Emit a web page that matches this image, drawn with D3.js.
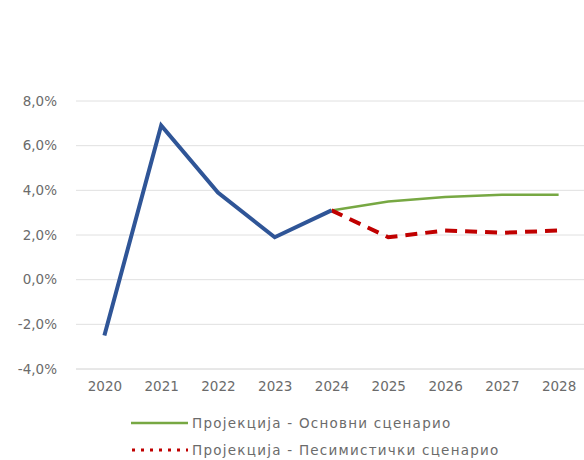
<!DOCTYPE html>
<html>
<head>
<meta charset="utf-8">
<script src="https://cdn.jsdelivr.net/npm/d3@7"></script>
<style>
  html, body { margin: 0; padding: 0; background: #fff; }
  svg text { font-family: "DejaVu Sans", "Liberation Sans", sans-serif; fill: #6b6b6b; }
</style>
</head>
<body>
<svg id="chart" width="584" height="460"></svg>
<script>
// Years on the x axis
const years = ["2020", "2021", "2022", "2023", "2024", "2025", "2026", "2027", "2028"];
// Realized growth (%), 2020–2024
const actual = [-2.5, 6.9, 3.9, 1.9, 3.1];
// Baseline projection (%), 2024–2028
const baseline = [3.1, 3.5, 3.7, 3.8, 3.8];
// Pessimistic projection (%), 2024–2028
const pessimistic = [3.1, 1.9, 2.2, 2.1, 2.2];
// Y axis ticks (%)
const yTicks = [-4, -2, 0, 2, 4, 6, 8];
// Legend labels
const legendLabels = ["Пројекција - Основни сценарио", "Пројекција - Песимистички сценарио"];

(function draw() {
  const svg = d3.select("#chart");
  const plotLeft = 76, plotRight = 587, plotTop = 101, plotBottom = 369;
  const fontSize = 13.5;

  const x = d3.scalePoint().domain(years).range([plotLeft, plotRight]).padding(0.5);
  const y = d3.scaleLinear().domain([-4, 8]).range([plotBottom, plotTop]);

  // Comma decimal separator, plain hyphen for negatives
  const fmt = v => (v < 0 ? "-" : "") + Math.abs(v).toFixed(1).replace(".", ",") + "%";

  // Horizontal gridlines
  svg.append("g")
    .selectAll("line")
    .data(yTicks)
    .join("line")
    .attr("x1", plotLeft).attr("x2", plotRight)
    .attr("y1", d => y(d)).attr("y2", d => y(d))
    .attr("stroke", d => d === -4 ? "#d0d0d0" : "#e0e0e0")
    .attr("stroke-width", 1);

  // Y axis labels
  const yAxis = d3.axisLeft(y).tickValues(yTicks).tickFormat(fmt).tickSize(0).tickPadding(0);
  const gy = svg.append("g").attr("transform", `translate(${plotLeft - 19},0)`).call(yAxis);
  gy.select(".domain").remove();
  gy.selectAll("text").attr("font-size", fontSize).style("fill", "#6b6b6b")
    .style("font-family", "'DejaVu Sans', sans-serif");

  // X axis labels
  const xAxis = d3.axisBottom(x).tickSize(0).tickPadding(0);
  const gx = svg.append("g").attr("transform", `translate(0,${plotBottom + 12})`).call(xAxis);
  gx.select(".domain").remove();
  gx.selectAll("text").attr("font-size", fontSize).style("fill", "#6b6b6b")
    .style("font-family", "'DejaVu Sans', sans-serif");

  const line = d3.line().x(d => x(d[0])).y(d => y(d[1]));

  // Baseline projection
  svg.append("path")
    .datum(baseline.map((v, i) => [years[4 + i], v]))
    .attr("d", line).attr("fill", "none")
    .attr("stroke", "#77a843").attr("stroke-width", 2.5);

  // Pessimistic projection
  svg.append("path")
    .datum(pessimistic.map((v, i) => [years[4 + i], v]))
    .attr("d", line).attr("fill", "none")
    .attr("stroke", "#c00000").attr("stroke-width", 4)
    .attr("stroke-dasharray", "12,8");

  // Realized series
  svg.append("path")
    .datum(actual.map((v, i) => [years[i], v]))
    .attr("d", line).attr("fill", "none")
    .attr("stroke", "#2f5597").attr("stroke-width", 4)
    .attr("stroke-linejoin", "miter");

  // Legend
  const lg = svg.append("g");
  lg.append("line").attr("x1", 131).attr("x2", 188).attr("y1", 423).attr("y2", 423)
    .attr("stroke", "#77a843").attr("stroke-width", 2.5);
  lg.append("line").attr("x1", 132).attr("x2", 188).attr("y1", 450).attr("y2", 450)
    .attr("stroke", "#c00000").attr("stroke-width", 3).attr("stroke-dasharray", "3,6");
  lg.selectAll("text").data(legendLabels).join("text")
    .attr("x", 192).attr("y", (d, i) => 428 + i * 27)
    .attr("font-size", fontSize)
    .attr("letter-spacing", 1.25)
    .text(d => d);
})();
</script>
</body>
</html>
